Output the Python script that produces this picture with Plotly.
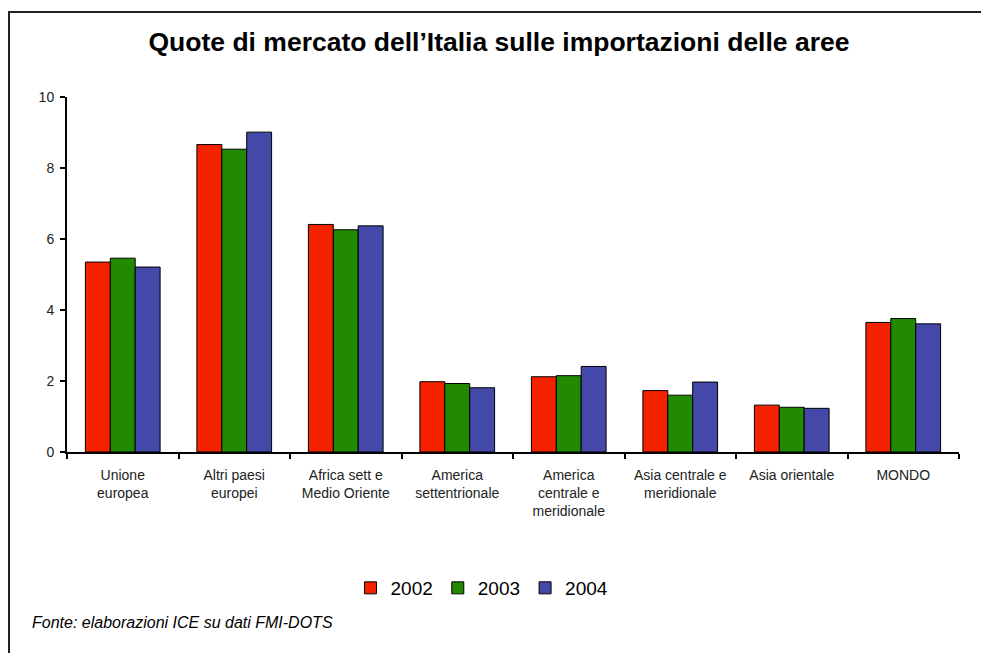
import plotly.graph_objects as go

categories = ["Unione<br>europea", "Altri paesi<br>europei", "Africa sett e<br>Medio Oriente",
              "America<br>settentrionale", "America<br>centrale e<br>meridionale",
              "Asia centrale e<br>meridionale", "Asia orientale", "MONDO"]
v2002 = [5.35, 8.66, 6.41, 1.98, 2.12, 1.73, 1.32, 3.65]
v2003 = [5.46, 8.53, 6.26, 1.93, 2.15, 1.60, 1.26, 3.76]
v2004 = [5.21, 9.01, 6.37, 1.81, 2.41, 1.97, 1.23, 3.61]
years = ["2002", "2003", "2004"]
colors = ["#F52200", "#228A00", "#4448A8"]

FONT = "Liberation Sans, Arial, sans-serif"

fig = go.Figure()
for name, vals, col in zip(years, [v2002, v2003, v2004], colors):
    fig.add_trace(go.Bar(x=categories, y=vals, name=name,
                         marker=dict(color=col, line=dict(color="#000000", width=1))))

L, R, T, B = 67, 22, 97, 201
W, H = 981, 653
pw, ph = W - L - R, H - T - B

def px(x):
    return (x - L) / pw

def py(y):
    return (H - B - y) / ph

fig.update_layout(
    width=W, height=H,
    margin=dict(l=L, r=R, t=T, b=B),
    paper_bgcolor="white", plot_bgcolor="white",
    barmode="group", bargap=0.33, bargroupgap=0,
    font=dict(family=FONT, size=14, color="#111"),
    title=dict(text="<b>Quote di mercato dell\u2019Italia sulle importazioni delle aree</b>",
               x=499 / W, xanchor="center", y=1 - 42 / H, yanchor="middle",
               font=dict(size=26.5, color="#000", family=FONT)),
    showlegend=True,
    legend=dict(orientation="h", x=px(482), xanchor="center", y=py(588), yanchor="middle",
                font=dict(size=19, color="#000"), traceorder="normal",
                itemwidth=30, bgcolor="rgba(0,0,0,0)"),
    xaxis=dict(showline=True, linecolor="#000", linewidth=2, ticks="outside",
               tickson="boundaries", ticklen=5, tickwidth=2, tickcolor="#000",
               ticklabelstandoff=9,
               showgrid=False, tickfont=dict(size=14, color="#222")),
    yaxis=dict(range=[0, 10], dtick=2, showline=True, linecolor="#000", linewidth=2,
               ticks="outside", ticklen=5, tickwidth=2, tickcolor="#000",
               ticklabelstandoff=3,
               showgrid=False, zeroline=False, tickfont=dict(size=14, color="#222")),
    shapes=[dict(type="rect", xref="paper", yref="paper",
                 x0=px(9), x1=px(1000), y0=py(700), y1=py(12),
                 line=dict(color="#222", width=2), fillcolor="rgba(0,0,0,0)", layer="above")],
    annotations=[dict(text="<i>Fonte: elaborazioni ICE su dati FMI-DOTS</i>",
                      xref="paper", yref="paper", x=px(30), y=py(622),
                      xanchor="left", yanchor="middle", showarrow=False,
                      font=dict(size=16, color="#000", family=FONT))],
)

fig.write_html("out.html", config={"displayModeBar": False},
               post_script="document.body.style.margin='0';document.body.style.overflow='hidden';")
